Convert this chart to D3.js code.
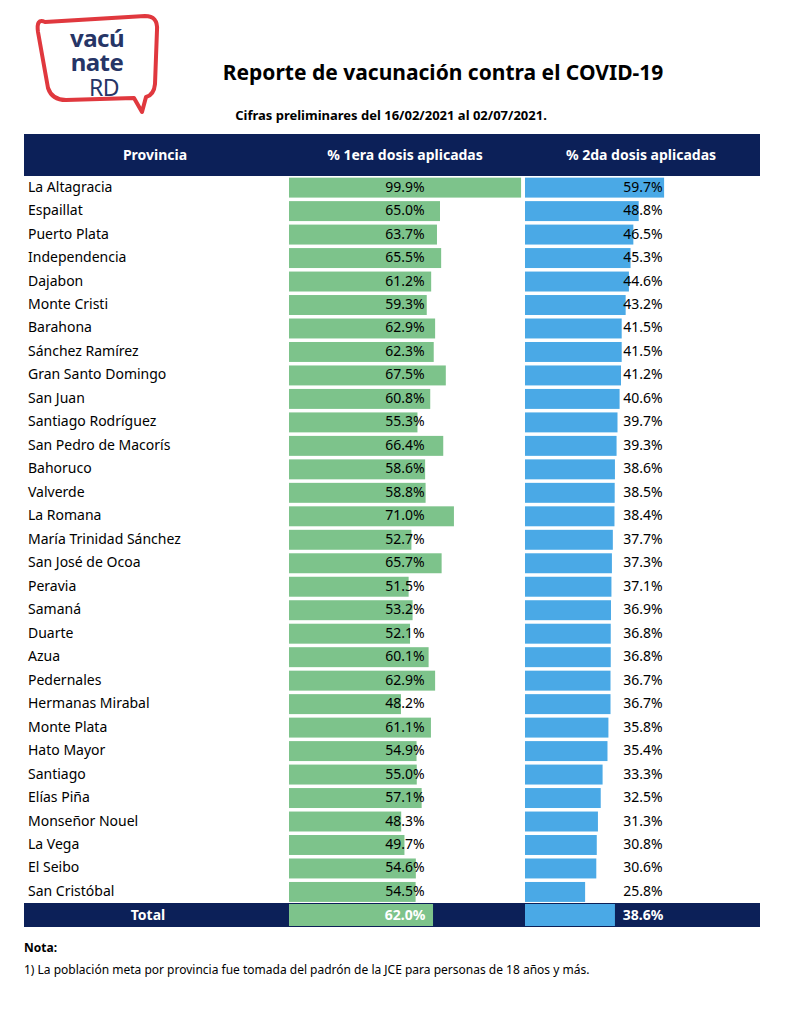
<!DOCTYPE html>
<html><head><meta charset="utf-8">
<script src="https://cdn.jsdelivr.net/npm/d3@7"></script>
<style>body{margin:0;background:#fff}svg{font-family:"Noto Sans",sans-serif}</style>
</head><body><svg id="c" width="807" height="1024"></svg>
<script>
var provincias = ["La Altagracia","Espaillat","Puerto Plata","Independencia","Dajabon","Monte Cristi","Barahona","Sánchez Ramírez","Gran Santo Domingo","San Juan","Santiago Rodríguez","San Pedro de Macorís","Bahoruco","Valverde","La Romana","María Trinidad Sánchez","San José de Ocoa","Peravia","Samaná","Duarte","Azua","Pedernales","Hermanas Mirabal","Monte Plata","Hato Mayor","Santiago","Elías Piña","Monseñor Nouel","La Vega","El Seibo","San Cristóbal"];
var dosis1 = [99.9,65.0,63.7,65.5,61.2,59.3,62.9,62.3,67.5,60.8,55.3,66.4,58.6,58.8,71.0,52.7,65.7,51.5,53.2,52.1,60.1,62.9,48.2,61.1,54.9,55.0,57.1,48.3,49.7,54.6,54.5];
var dosis2 = [59.7,48.8,46.5,45.3,44.6,43.2,41.5,41.5,41.2,40.6,39.7,39.3,38.6,38.5,38.4,37.7,37.3,37.1,36.9,36.8,36.8,36.7,36.7,35.8,35.4,33.3,32.5,31.3,30.8,30.6,25.8];
var total1 = 62.0, total2 = 38.6;
var headers = ["Provincia","% 1era dosis aplicadas","% 2da dosis aplicadas"];

var navy = "#0c2058", green = "#7dc38b", blue = "#4aa9e6";
var svg = d3.select("#c");

// logo
var logo = svg.append("g");
logo.append("path")
  .attr("d","M45,22 Q36,18 38,32 L48,88 Q52,100 66,100 L134,98 L142,112 L146,97 Q154,95 155,84 L157,30 Q158,16 145,16 Z")
  .attr("fill","none").attr("stroke","#e0383e").attr("stroke-width",4).attr("stroke-linejoin","round");
logo.selectAll("text.l").data([["vacú",47],["nate",71],["RD",96]]).enter().append("text")
  .attr("x",function(d,i){return i==2?104:97}).attr("y",function(d){return d[1]})
  .attr("text-anchor","middle").attr("fill","#263566").attr("letter-spacing",-0.5)
  .attr("font-size",function(d,i){return i==2?23:24}).attr("font-weight",function(d,i){return i==2?400:700})
  .text(function(d){return d[0]});

svg.append("text").attr("x",443).attr("y",80).attr("text-anchor","middle")
  .attr("font-size",21).attr("font-weight",700).text("Reporte de vacunación contra el COVID-19");
svg.append("text").attr("x",391).attr("y",120).attr("text-anchor","middle")
  .attr("font-size",13).attr("font-weight",700).text("Cifras preliminares del 16/02/2021 al 02/07/2021.");

// header
svg.append("rect").attr("x",24).attr("y",134).attr("width",736).attr("height",42).attr("fill",navy);
var hx = [155,405,641];
svg.selectAll("text.h").data(headers).enter().append("text")
  .attr("x",function(d,i){return hx[i]}).attr("y",160).attr("text-anchor","middle")
  .attr("fill","#fff").attr("font-size",14).attr("font-weight",700).text(function(d){return d});

var y = d3.scaleBand().domain(provincias).range([176,176+23.47*provincias.length]).paddingInner(0.15).paddingOuter(0.07);
var x1 = d3.scaleLinear().domain([0,100]).range([289,521.3]);
var x2 = d3.scaleLinear().domain([0,100]).range([525,758]);

var row = svg.selectAll("g.r").data(provincias).enter().append("g");
row.append("rect").attr("x",x1(0)).attr("y",function(d){return y(d)})
  .attr("width",function(d,i){return x1(dosis1[i])-x1(0)}).attr("height",y.bandwidth()).attr("fill",green);
row.append("rect").attr("x",x2(0)).attr("y",function(d){return y(d)})
  .attr("width",function(d,i){return x2(dosis2[i])-x2(0)}).attr("height",y.bandwidth()).attr("fill",blue);
row.append("text").attr("x",28).attr("y",function(d){return y(d)+y.bandwidth()/2+4})
  .attr("font-size",14).text(function(d){return d});
row.append("text").attr("x",405).attr("y",function(d){return y(d)+y.bandwidth()/2+4})
  .attr("text-anchor","middle").attr("font-size",14).text(function(d,i){return dosis1[i].toFixed(1)+"%"});
row.append("text").attr("x",643).attr("y",function(d){return y(d)+y.bandwidth()/2+4})
  .attr("text-anchor","middle").attr("font-size",14).text(function(d,i){return dosis2[i].toFixed(1)+"%"});

// total
var ty = 903;
svg.append("rect").attr("x",24).attr("y",ty).attr("width",736).attr("height",24).attr("fill",navy);
svg.append("rect").attr("x",x1(0)).attr("y",ty+1).attr("width",x1(total1)-x1(0)).attr("height",22).attr("fill",green);
svg.append("rect").attr("x",x2(0)).attr("y",ty+1).attr("width",x2(total2)-x2(0)).attr("height",22).attr("fill",blue);
[["Total",148],[total1.toFixed(1)+"%",405],[total2.toFixed(1)+"%",643]].forEach(function(d){
  svg.append("text").attr("x",d[1]).attr("y",ty+17).attr("text-anchor","middle").attr("fill","#fff")
    .attr("font-size",14).attr("font-weight",700).text(d[0]);
});

svg.append("text").attr("x",24).attr("y",952).attr("font-size",12).attr("font-weight",700).text("Nota:");
svg.append("text").attr("x",24).attr("y",974).attr("font-size",12)
  .text("1) La población meta por provincia fue tomada del padrón de la JCE para personas de 18 años y más.");
</script></body></html>
